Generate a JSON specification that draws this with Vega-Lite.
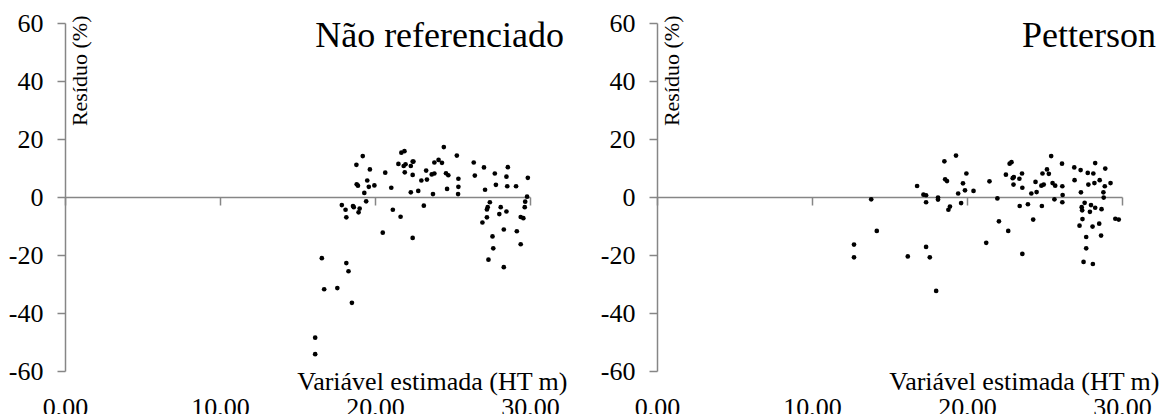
{
  "$schema": "https://vega.github.io/schema/vega-lite/v6.json",
  "background": "white",
  "padding": {"left": 8, "top": 10, "right": 5, "bottom": 0},
  "bounds": "flush",
  "spacing": 127,
  "config": {
    "font": "Liberation Serif",
    "view": {"stroke": null},
    "axis": {"grid": false, "domainColor": "#868686", "tickColor": "#868686", "domainWidth": 1.5, "tickWidth": 1.5, "labelColor": "black", "titleColor": "black", "titleFontWeight": "normal", "labelFont": "Liberation Serif", "titleFont": "Liberation Serif"}
  },
  "datasets": {
    "nr": [
      {"x": 16.14, "y": -48.5}, {"x": 16.14, "y": -54.2}, {"x": 16.57, "y": -21.1}, {"x": 16.72, "y": -31.8},
      {"x": 17.57, "y": -31.4}, {"x": 18.15, "y": -22.8}, {"x": 18.29, "y": -25.6}, {"x": 18.51, "y": -36.5},
      {"x": 17.86, "y": -2.8}, {"x": 18.1, "y": -4.4}, {"x": 18.15, "y": -7.0}, {"x": 18.58, "y": -3.1},
      {"x": 18.63, "y": -3.5}, {"x": 18.94, "y": -5.3}, {"x": 19.01, "y": -4.0}, {"x": 18.8, "y": 11.1},
      {"x": 18.82, "y": 4.4}, {"x": 18.9, "y": 3.9}, {"x": 19.21, "y": 14.1}, {"x": 19.31, "y": 1.4},
      {"x": 19.43, "y": -1.5}, {"x": 19.5, "y": 5.7}, {"x": 19.6, "y": 3.5}, {"x": 19.67, "y": 9.5},
      {"x": 19.96, "y": 4.0}, {"x": 20.5, "y": -12.3}, {"x": 20.66, "y": 8.4}, {"x": 21.05, "y": 3.2},
      {"x": 21.15, "y": -4.4}, {"x": 21.51, "y": 11.4}, {"x": 21.65, "y": -6.8}, {"x": 21.7, "y": 15.3},
      {"x": 21.9, "y": 15.8}, {"x": 21.85, "y": 10.7}, {"x": 21.92, "y": 8.5}, {"x": 21.97, "y": 11.3},
      {"x": 22.31, "y": 1.6}, {"x": 22.31, "y": 10.7}, {"x": 22.43, "y": 12.2}, {"x": 22.48, "y": 12.2},
      {"x": 22.43, "y": 7.6}, {"x": 22.43, "y": -14.1}, {"x": 22.79, "y": 2.1}, {"x": 22.99, "y": 5.7},
      {"x": 23.15, "y": -3.0}, {"x": 23.3, "y": 9.1}, {"x": 23.35, "y": 6.0}, {"x": 23.74, "y": 1.0},
      {"x": 23.66, "y": 7.8}, {"x": 23.83, "y": 8.1}, {"x": 23.83, "y": 11.9}, {"x": 24.1, "y": 12.8},
      {"x": 24.32, "y": 11.8}, {"x": 24.44, "y": 17.2}, {"x": 24.58, "y": 8.2}, {"x": 24.65, "y": 2.8},
      {"x": 24.73, "y": 7.5}, {"x": 25.28, "y": 14.3}, {"x": 25.36, "y": 1.0}, {"x": 25.38, "y": 3.5},
      {"x": 25.38, "y": 6.3}, {"x": 26.37, "y": 11.9}, {"x": 26.44, "y": 7.4}, {"x": 27.03, "y": 10.2},
      {"x": 27.1, "y": 2.5}, {"x": 26.93, "y": -8.8}, {"x": 27.22, "y": -7.0}, {"x": 27.22, "y": -4.3},
      {"x": 27.27, "y": -3.5}, {"x": 27.41, "y": -1.8}, {"x": 27.32, "y": -21.6}, {"x": 27.58, "y": -13.6},
      {"x": 27.63, "y": -17.7}, {"x": 27.73, "y": 8.1}, {"x": 27.8, "y": 4.2}, {"x": 28.02, "y": -5.9},
      {"x": 28.11, "y": -3.5}, {"x": 28.31, "y": -11.2}, {"x": 28.31, "y": -24.2}, {"x": 28.48, "y": -5.0},
      {"x": 28.48, "y": 7.0}, {"x": 28.53, "y": 3.7}, {"x": 28.57, "y": 10.3}, {"x": 29.1, "y": 3.7},
      {"x": 29.15, "y": -11.8}, {"x": 29.4, "y": -16.3}, {"x": 29.4, "y": -6.9}, {"x": 29.57, "y": -7.3},
      {"x": 29.66, "y": -3.5}, {"x": 29.69, "y": -1.6}, {"x": 29.81, "y": 0.1}, {"x": 29.86, "y": 6.6}
    ],
    "pet": [
      {"x": 12.71, "y": -16.4}, {"x": 12.71, "y": -20.8}, {"x": 13.82, "y": -0.8}, {"x": 14.18, "y": -11.7},
      {"x": 16.18, "y": -20.5}, {"x": 16.78, "y": 3.8}, {"x": 17.19, "y": 0.8}, {"x": 17.36, "y": 0.6},
      {"x": 17.36, "y": -1.8}, {"x": 17.36, "y": -17.2}, {"x": 17.6, "y": -20.8}, {"x": 18.01, "y": -32.4},
      {"x": 18.13, "y": -0.2}, {"x": 18.13, "y": -0.9}, {"x": 18.54, "y": 12.3}, {"x": 18.59, "y": 6.1},
      {"x": 18.71, "y": 5.5}, {"x": 18.8, "y": -4.4}, {"x": 18.9, "y": -3.3}, {"x": 19.29, "y": 14.3},
      {"x": 19.43, "y": 1.2}, {"x": 19.62, "y": -2.1}, {"x": 19.74, "y": 4.7}, {"x": 19.87, "y": 2.3},
      {"x": 19.96, "y": 8.1}, {"x": 20.42, "y": 2.1}, {"x": 21.24, "y": -15.8}, {"x": 21.45, "y": 5.4},
      {"x": 21.96, "y": -0.5}, {"x": 22.06, "y": -8.4}, {"x": 22.51, "y": 7.7}, {"x": 22.66, "y": -11.7},
      {"x": 22.75, "y": 11.5}, {"x": 22.87, "y": 12.0}, {"x": 22.95, "y": 6.5}, {"x": 23.0, "y": 4.3},
      {"x": 23.02, "y": 6.9}, {"x": 23.38, "y": 6.3}, {"x": 23.4, "y": -3.1}, {"x": 23.55, "y": 8.1},
      {"x": 23.57, "y": 3.2}, {"x": 23.57, "y": -19.6}, {"x": 23.93, "y": -2.5}, {"x": 24.15, "y": 1.2},
      {"x": 24.27, "y": -7.8}, {"x": 24.42, "y": 5.2}, {"x": 24.49, "y": 1.7}, {"x": 24.8, "y": 3.9},
      {"x": 24.83, "y": -3.1}, {"x": 24.87, "y": 8.1}, {"x": 24.95, "y": 4.3}, {"x": 25.16, "y": 9.5},
      {"x": 25.28, "y": 8.0}, {"x": 25.43, "y": 14.1}, {"x": 25.52, "y": 4.8}, {"x": 25.64, "y": -0.8},
      {"x": 25.69, "y": 3.9}, {"x": 26.13, "y": 11.5}, {"x": 26.15, "y": 3.7}, {"x": 26.17, "y": 0.7},
      {"x": 26.15, "y": -1.8}, {"x": 26.92, "y": 10.2}, {"x": 26.94, "y": 5.8}, {"x": 27.26, "y": -9.9},
      {"x": 27.33, "y": 9.3}, {"x": 27.35, "y": 1.6}, {"x": 27.4, "y": -3.5}, {"x": 27.43, "y": -4.6},
      {"x": 27.45, "y": -7.6}, {"x": 27.52, "y": -22.4}, {"x": 27.59, "y": -2.0}, {"x": 27.69, "y": -13.8},
      {"x": 27.69, "y": -17.7}, {"x": 27.79, "y": 8.3}, {"x": 27.83, "y": 4.3}, {"x": 27.93, "y": -5.1},
      {"x": 28.0, "y": -2.8}, {"x": 28.1, "y": -10.2}, {"x": 28.12, "y": -23.1}, {"x": 28.15, "y": 8.1},
      {"x": 28.22, "y": 4.8}, {"x": 28.27, "y": -3.7}, {"x": 28.27, "y": 11.7}, {"x": 28.53, "y": -9.2},
      {"x": 28.56, "y": 5.8}, {"x": 28.65, "y": -13.3}, {"x": 28.68, "y": -4.2}, {"x": 28.8, "y": 1.6},
      {"x": 28.82, "y": -0.2}, {"x": 28.89, "y": 3.7}, {"x": 28.92, "y": 9.8}, {"x": 29.26, "y": 4.8},
      {"x": 29.57, "y": -7.5}, {"x": 29.79, "y": -7.8}
    ]
  },
  "hconcat": [
    {
      "width": 465, "height": 348,
      "layer": [
        {
          "data": {"name": "nr"},
          "mark": {"type": "point", "filled": true, "color": "black", "opacity": 1, "size": 22},
          "encoding": {
            "x": {"field": "x", "type": "quantitative", "scale": {"domain": [0, 30], "nice": false},
              "axis": {"values": [0, 10, 20, 30], "labelExpr": "replace(format(datum.value, '.2f'), '.', ',')", "offset": -174, "tickSize": 8, "labelPadding": 189, "labelFontSize": 26, "labelFlush": false,
                "title": "Variável estimada (HT m)", "titleFontSize": 26, "titleX": 502, "titleY": 184, "titleAlign": "right", "titleBaseline": "middle", "titleAnchor": null}},
            "y": {"field": "y", "type": "quantitative", "scale": {"domain": [-60, 60], "nice": false},
              "axis": {"values": [-60, -40, -20, 0, 20, 40, 60], "labelExpr": "replace(format(datum.value, 'd'), '−', '-')", "tickSize": 8, "labelPadding": 14, "labelFontSize": 26,
                "title": "Resíduo (%)", "titleFontSize": 22, "titleAngle": 270, "titleX": 4, "titleY": -8, "titleAlign": "right", "titleBaseline": "top"}}
          }
        },
        {
          "data": {"values": [{"label": "Não referenciado"}]},
          "mark": {"type": "text", "align": "right", "baseline": "alphabetic", "font": "Liberation Serif", "fontSize": 36, "color": "black", "dx": 34, "dy": 24},
          "encoding": {
            "x": {"datum": 30, "type": "quantitative"},
            "y": {"datum": 60, "type": "quantitative"},
            "text": {"field": "label"}
          }
        }
      ]
    },
    {
      "width": 465, "height": 348,
      "layer": [
        {
          "data": {"name": "pet"},
          "mark": {"type": "point", "filled": true, "color": "black", "opacity": 1, "size": 22},
          "encoding": {
            "x": {"field": "x", "type": "quantitative", "scale": {"domain": [0, 30], "nice": false},
              "axis": {"values": [0, 10, 20, 30], "labelExpr": "replace(format(datum.value, '.2f'), '.', ',')", "offset": -174, "tickSize": 8, "labelPadding": 189, "labelFontSize": 26, "labelFlush": false,
                "title": "Variável estimada (HT m)", "titleFontSize": 26, "titleX": 502, "titleY": 184, "titleAlign": "right", "titleBaseline": "middle", "titleAnchor": null}},
            "y": {"field": "y", "type": "quantitative", "scale": {"domain": [-60, 60], "nice": false},
              "axis": {"values": [-60, -40, -20, 0, 20, 40, 60], "labelExpr": "replace(format(datum.value, 'd'), '−', '-')", "tickSize": 8, "labelPadding": 14, "labelFontSize": 26,
                "title": "Resíduo (%)", "titleFontSize": 22, "titleAngle": 270, "titleX": 4, "titleY": -8, "titleAlign": "right", "titleBaseline": "top"}}
          }
        },
        {
          "data": {"values": [{"label": "Petterson"}]},
          "mark": {"type": "text", "align": "right", "baseline": "alphabetic", "font": "Liberation Serif", "fontSize": 36, "color": "black", "dx": 34, "dy": 24},
          "encoding": {
            "x": {"datum": 30, "type": "quantitative"},
            "y": {"datum": 60, "type": "quantitative"},
            "text": {"field": "label"}
          }
        }
      ]
    }
  ]
}
